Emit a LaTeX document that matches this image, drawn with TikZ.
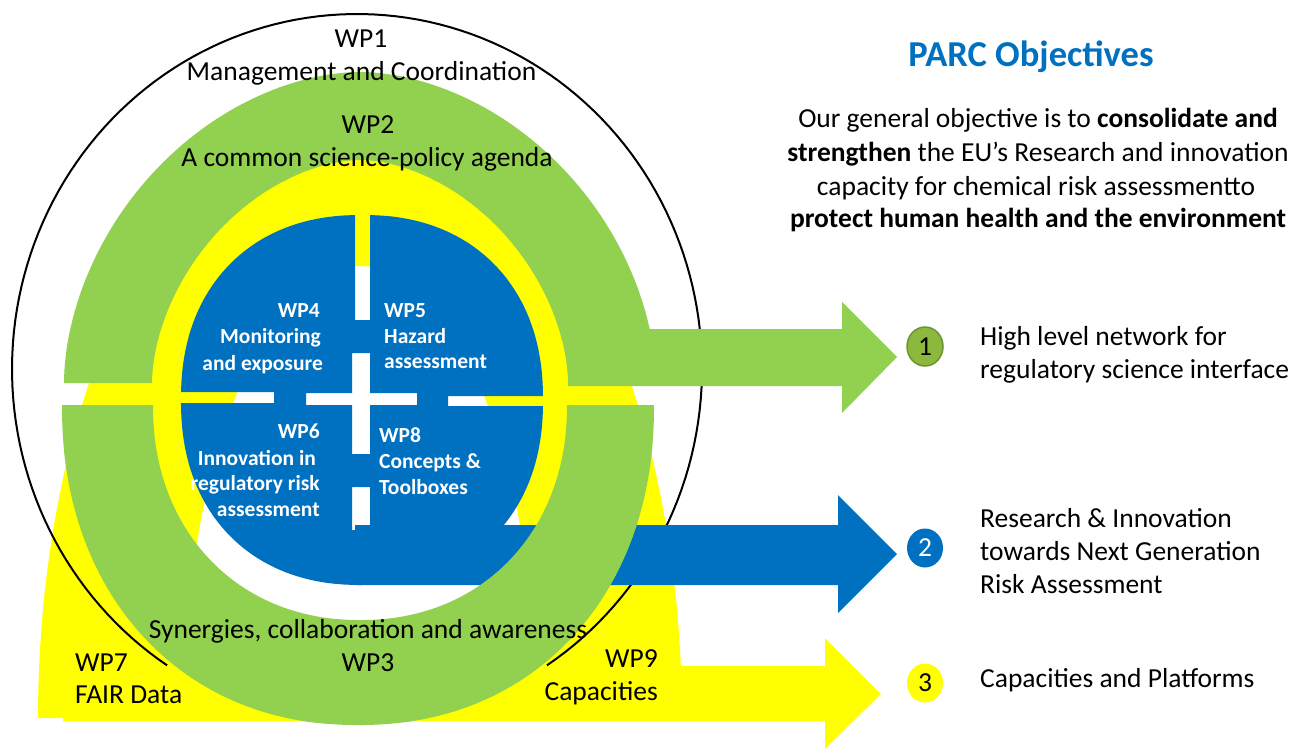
\documentclass[tikz,border=0pt]{standalone}
\usepackage{fontspec}
\setmainfont{Carlito}
\usetikzlibrary{shapes.geometric}
\definecolor{pgreen}{HTML}{92D050}
\definecolor{pblue}{HTML}{0070C0}
\definecolor{pyellow}{HTML}{FFFF00}
\definecolor{cgreen}{HTML}{8CB83E}
\definecolor{cgreenb}{HTML}{6A9530}
\begin{document}
\begin{tikzpicture}[x=1pt,y=-1pt,
  txt/.style={inner sep=0pt, font=\fontsize{27.5}{33}\selectfont},
  wtxt/.style={inner sep=0pt, text=white, font=\fontsize{21.5}{26}\selectfont\bfseries},
  num/.style={ellipse, inner sep=0pt, minimum width=36pt, minimum height=39pt, font=\fontsize{27.5}{33}\selectfont}]
\useasboundingbox (0,0) rectangle (1295,748);
\fill[white] (0,0) rectangle (1295,748);
% yellow arch (WP7 / WP9)
\fill[pyellow] plot[domain=180:360,samples=120,variable=\t] ({360+322*cos(\t)},{718+620*sin(\t)})
  -- plot[domain=0:180,samples=120,variable=\t] ({360+177*cos(360-\t)},{718+452*sin(360-\t)}) -- cycle;
% yellow arrow 3
\fill[pyellow] (63,666) -- (825,666) -- (825,638) -- (881,694) -- (825,749) -- (825,721) -- (63,721) -- cycle;
% black ellipse WP1
\draw[line width=2pt] plot[domain=123.4:416.6,samples=160,variable=\t] ({357+345*cos(\t)},{369+355*sin(\t)});
% green arch WP2
\fill[pgreen] plot[domain=180:360,samples=120,variable=\t]
   ({360+296*sign(cos(\t))*pow(abs(cos(\t))+0.00001,1.081)},{383+311*sign(sin(\t))*pow(abs(sin(\t))+0.00001,1.081)})
  -- plot[domain=0:180,samples=120,variable=\t]
   ({360+208*sign(cos(360-\t))*pow(abs(cos(360-\t))+0.00001,1.111)},{383+223*sign(sin(360-\t))*pow(abs(sin(360-\t))+0.00001,1.111)}) -- cycle;
% green arrow 1
\fill[pgreen] (568,329) -- (842,329) -- (842,302) -- (897,357) -- (842,413) -- (842,386) -- (568,386) -- cycle;
% blue disc with white cross gaps
\begin{scope}
\clip plot[domain=0:360,samples=180,variable=\t]
   ({362+181*sign(cos(\t))*pow(abs(cos(\t))+0.00001,0.9)},{400+185*sign(sin(\t))*pow(abs(sin(\t))+0.00001,0.9)}) -- cycle;
\fill[pblue, even odd rule] (150,190) rectangle (580,620)
  (355,200) rectangle (370,320)
  (352,353) -- (370,353) -- (370,393) -- (417,393) -- (417,405) -- (370,405) -- (370,454) -- (352,454) -- (352,405) -- (306,405) -- (306,393) -- (352,393) -- cycle
  (160,392) rectangle (274,403)
  (448,396) rectangle (560,406)
  (352,487) rectangle (370,530);
\end{scope}
% blue arrow 2
\fill[pblue] (355,525) -- (838,525) -- (838,495) -- (897,554) -- (838,613) -- (838,585) -- (355,585) -- cycle;
% green U WP3
\fill[pgreen] plot[domain=0:180,samples=120,variable=\t]
   ({358+296*sign(cos(\t))*pow(abs(cos(\t))+0.00001,0.93)},{405+320*sign(sin(\t))*pow(abs(sin(\t))+0.00001,0.93)})
  -- plot[domain=0:180,samples=120,variable=\t]
   ({360+207*sign(cos(180-\t))*pow(abs(cos(180-\t))+0.00001,0.94)},{405+215*sign(sin(180-\t))*pow(abs(sin(180-\t))+0.00001,0.94)}) -- cycle;
% texts of the rings
\node[txt, anchor=base] (wp1) at (361,47) {WP1};
\node[txt, anchor=base] (wp1t) at (361.5,80) {Management and Coordination};
\node[txt, anchor=base] (wp2) at (368,133) {WP2};
\node[txt, anchor=base] (wp2t) at (367,166) {A common science-policy agenda};
\node[txt, anchor=base] (wp3t) at (368,638) {Synergies, collaboration and awareness};
\node[txt, anchor=base] (wp3) at (368,671) {WP3};
\node[txt, anchor=base west] (wp7) at (75,671) {WP7};
\node[txt, anchor=base west] (wp7t) at (75,703) {FAIR Data};
\node[txt, anchor=base east] (wp9) at (658,667) {WP9};
\node[txt, anchor=base east] (wp9t) at (658,700) {Capacities};
% blue quadrant texts
\node[wtxt, anchor=base east] (wp4) at (320,317) {WP4};
\node[wtxt, anchor=base east] (wp4a) at (321,343.5) {Monitoring};
\node[wtxt, anchor=base east] (wp4b) at (323,370) {and exposure};
\node[wtxt, anchor=base west] (wp5) at (384,317) {WP5};
\node[wtxt, anchor=base west] (wp5a) at (384,343) {Hazard};
\node[wtxt, anchor=base west] (wp5b) at (384,368.5) {assessment};
\node[wtxt, anchor=base east] (wp6) at (320,438.5) {WP6};
\node[wtxt, anchor=base east] (wp6a) at (316,465) {Innovation in};
\node[wtxt, anchor=base east] (wp6b) at (320,490.5) {regulatory risk};
\node[wtxt, anchor=base east] (wp6c) at (320,516) {assessment};
\node[wtxt, anchor=base west] (wp8) at (379,442) {WP8};
\node[wtxt, anchor=base west] (wp8a) at (379,468) {Concepts \&};
\node[wtxt, anchor=base west] (wp8b) at (379,494) {Toolboxes};
% objectives
\node[inner sep=0pt, anchor=base, text=pblue, font=\fontsize{36.5}{40}\selectfont\bfseries] (title) at (1031,66) {PARC Objectives};
\node[txt, anchor=base] (p1) at (1038,127.5) {Our general objective is to \textbf{consolidate and}};
\node[txt, anchor=base] (p2) at (1038,161.5) {\textbf{strengthen} the EU’s Research and innovation};
\node[txt, anchor=base] (p3) at (1036,195.5) {capacity for chemical risk assessmentto};
\node[txt, anchor=base] (p4) at (1038,227.5) {\textbf{protect human health and the environment}};
% numbered objectives
\node[num, fill=cgreen, draw=cgreenb, line width=1.5pt] (c1) at (925,346.5) {1};
\node[num, fill=pblue, text=white] (c2) at (925,548) {2};
\node[num, fill=pyellow] (c3) at (925,683) {3};
\node[txt, anchor=base west] (o1a) at (980,345) {High level network for};
\node[txt, anchor=base west] (o1b) at (980,378) {regulatory science interface};
\node[txt, anchor=base west] (o2a) at (980,527) {Research \& Innovation};
\node[txt, anchor=base west] (o2b) at (980,560) {towards Next Generation};
\node[txt, anchor=base west] (o2c) at (980,593.5) {Risk Assessment};
\node[txt, anchor=base west] (o3) at (980,687.5) {Capacities and Platforms};
\end{tikzpicture}
\end{document}
